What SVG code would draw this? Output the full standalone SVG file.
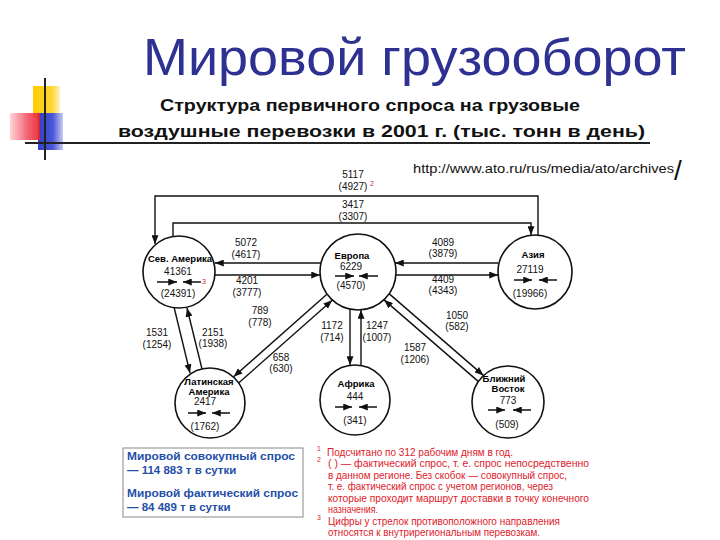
<svg xmlns="http://www.w3.org/2000/svg" width="720" height="540" viewBox="0 0 720 540">
<style>
.num{font-family:"Liberation Sans",Arial,sans-serif;font-size:10px;fill:#111;text-anchor:middle}
.nm{font-family:"Liberation Sans",Arial,sans-serif;font-size:9.5px;font-weight:bold;fill:#000;text-anchor:middle}
.ln{fill:none;stroke:#111;stroke-width:1.4}
.circ{fill:#fff;stroke:#111;stroke-width:1.6}
.ia{stroke:#111;stroke-width:1.5}
.fn{font-family:"Liberation Sans",Arial,sans-serif;font-size:10.5px;fill:#e0202a}
.sup{font-family:"Liberation Sans",Arial,sans-serif;font-size:7px;fill:#e0202a}
.lg{font-family:"Liberation Sans",Arial,sans-serif;font-size:11.5px;font-weight:bold;fill:#1f4fa8}
</style>
<defs>
<marker id="ah" viewBox="0 0 10 8" refX="10" refY="4" markerWidth="9" markerHeight="7" markerUnits="userSpaceOnUse" orient="auto"><path d="M0,0 L10,4 L0,8 Z" fill="#111"/></marker>
<marker id="ahs" viewBox="0 0 10 8" refX="10" refY="4" markerWidth="10" markerHeight="7" markerUnits="userSpaceOnUse" orient="auto"><path d="M0,0 L10,4 L0,8 Z" fill="#111"/></marker>
<linearGradient id="gy" x1="0" y1="0" x2="1" y2="0"><stop offset="0" stop-color="#ffcc00"/><stop offset="0.7" stop-color="#ffd633"/><stop offset="1" stop-color="#fff2c0"/></linearGradient>
<linearGradient id="gr" x1="0" y1="0" x2="1" y2="0"><stop offset="0" stop-color="#ffd0d4"/><stop offset="0.6" stop-color="#f05060"/><stop offset="1" stop-color="#e8202a"/></linearGradient>
<linearGradient id="gb" x1="0" y1="0" x2="1" y2="0"><stop offset="0" stop-color="#3040c8"/><stop offset="0.6" stop-color="#4a58d8"/><stop offset="1" stop-color="#c8ccf4"/></linearGradient>
</defs>
<rect width="720" height="540" fill="#fff"/>
<g id="decor">
<rect x="33" y="86" width="27" height="32" fill="url(#gy)"/>
<rect x="38" y="113" width="25" height="37" fill="url(#gb)"/>
<rect x="10" y="113" width="30" height="27" fill="url(#gr)" opacity="0.9"/>
<line x1="45" y1="78" x2="45" y2="160" stroke="#222" stroke-width="2"/>
<line x1="25" y1="143" x2="650" y2="143" stroke="#222" stroke-width="2"/>
</g>
<g id="title">
<text x="143" y="75" font-family="'Liberation Sans',Arial,sans-serif" font-size="52" fill="#2e3192" textLength="543" lengthAdjust="spacingAndGlyphs">Мировой грузооборот</text>
<text x="160" y="111" font-family="'Liberation Sans',Arial,sans-serif" font-size="17" font-weight="bold" fill="#111" textLength="420" lengthAdjust="spacingAndGlyphs">Структура первичного спроса на грузовые</text>
<text x="118" y="137" font-family="'Liberation Sans',Arial,sans-serif" font-size="17" font-weight="bold" fill="#111" textLength="527" lengthAdjust="spacingAndGlyphs">воздушные перевозки в 2001 г. (тыс. тонн в день)</text>
<text x="413" y="173" font-family="'Liberation Sans',Arial,sans-serif" font-size="12.5" fill="#111"><tspan textLength="261" lengthAdjust="spacingAndGlyphs">http://www.ato.ru/rus/media/ato/archives</tspan><tspan font-size="28" dy="7">/</tspan></text>
</g>
<g id="connectors">
<path class="ln" d="M538,235 V196 H155 V244" marker-end="url(#ah)"/>
<path class="ln" d="M173,237 V223 H531 V235" marker-end="url(#ah)"/>
<path class="ln" d="M321,263 H215" marker-end="url(#ah)"/>
<path class="ln" d="M215,275 H320" marker-end="url(#ah)"/>
<path class="ln" d="M498,263 H395" marker-end="url(#ah)"/>
<path class="ln" d="M396,275 H498" marker-end="url(#ah)"/>
<path class="ln" d="M174,307 L190,373" marker-end="url(#ah)"/>
<path class="ln" d="M202,369 L187,308" marker-end="url(#ah)"/>
<path class="ln" d="M326.9,294.2 L233.6,376.8" marker-end="url(#ah)"/>
<path class="ln" d="M238.9,382.8 L332.2,300.2" marker-end="url(#ah)"/>
<path class="ln" d="M350,310 V365" marker-end="url(#ah)"/>
<path class="ln" d="M361,365 V310" marker-end="url(#ah)"/>
<path class="ln" d="M389.3,293.9 L483.4,375.4" marker-end="url(#ah)"/>
<path class="ln" d="M478.2,381.4 L384.1,299.9" marker-end="url(#ah)"/>
<text class="num" x="353" y="178">5117</text><text class="num" x="353" y="190">(4927)</text>
<text class="sup" x="370" y="186">2</text>
<text class="num" x="353" y="208">3417</text><text class="num" x="353" y="220">(3307)</text>
<text class="num" x="246" y="246">5072</text><text class="num" x="246" y="258">(4617)</text>
<text class="num" x="247" y="284">4201</text><text class="num" x="247" y="296">(3777)</text>
<text class="num" x="443" y="246">4089</text><text class="num" x="443" y="257">(3879)</text>
<text class="num" x="443" y="283">4409</text><text class="num" x="443" y="294">(4343)</text>
<text class="num" x="157" y="336">1531</text><text class="num" x="157" y="348">(1254)</text>
<text class="num" x="213" y="336">2151</text><text class="num" x="213" y="347">(1938)</text>
<text class="num" x="260" y="314">789</text><text class="num" x="260" y="326">(778)</text>
<text class="num" x="281" y="361">658</text><text class="num" x="281" y="372">(630)</text>
<text class="num" x="332" y="329">1172</text><text class="num" x="332" y="341">(714)</text>
<text class="num" x="377" y="329">1247</text><text class="num" x="377" y="341">(1007)</text>
<text class="num" x="457" y="319">1050</text><text class="num" x="457" y="330">(582)</text>
<text class="num" x="415" y="351">1587</text><text class="num" x="415" y="363">(1206)</text>
</g>
<g id="node-na">
<circle class="circ" cx="179" cy="272" r="36"/>
<text class="nm" x="180" y="262">Сев. Америка</text>
<text class="num" x="178" y="275">41361</text>
<line class="ia" x1="157" y1="282" x2="177" y2="282" marker-end="url(#ahs)"/>
<line class="ia" x1="201" y1="282" x2="183" y2="282" marker-end="url(#ahs)"/>
<text class="num" x="178" y="297">(24391)</text>
<text class="sup" x="202" y="284">3</text>
</g>
<g id="node-eu">
<circle class="circ" cx="358" cy="272" r="38"/>
<text class="nm" x="352" y="259">Европа</text>
<text class="num" x="351" y="270">6229</text>
<line class="ia" x1="335" y1="276" x2="354" y2="276" marker-end="url(#ahs)"/>
<line class="ia" x1="378" y1="276" x2="359" y2="276" marker-end="url(#ahs)"/>
<text class="num" x="351" y="289">(4570)</text>
</g>
<g id="node-as">
<circle class="circ" cx="535" cy="272" r="37"/>
<text class="nm" x="533" y="258">Азия</text>
<text class="num" x="530" y="273">27119</text>
<line class="ia" x1="514" y1="280" x2="532" y2="280" marker-end="url(#ahs)"/>
<line class="ia" x1="557" y1="280" x2="539" y2="280" marker-end="url(#ahs)"/>
<text class="num" x="530" y="297">(19966)</text>
</g>
<g id="node-la">
<circle class="circ" cx="210" cy="403" r="35"/>
<text class="nm" x="209" y="385">Латинская</text>
<text class="nm" x="209" y="395">Америка</text>
<text class="num" x="205" y="405">2417</text>
<line class="ia" x1="188" y1="413" x2="206" y2="413" marker-end="url(#ahs)"/>
<line class="ia" x1="230" y1="413" x2="212" y2="413" marker-end="url(#ahs)"/>
<text class="num" x="205" y="430">(1762)</text>
</g>
<g id="node-af">
<circle class="circ" cx="355" cy="400" r="35"/>
<text class="nm" x="356" y="387">Африка</text>
<text class="num" x="355" y="400">444</text>
<line class="ia" x1="335" y1="407" x2="352" y2="407" marker-end="url(#ahs)"/>
<line class="ia" x1="377" y1="407" x2="359" y2="407" marker-end="url(#ahs)"/>
<text class="num" x="355" y="424">(341)</text>
</g>
<g id="node-me">
<circle class="circ" cx="508" cy="402" r="36"/>
<text class="nm" x="504" y="382">Ближний</text>
<text class="nm" x="508" y="392">Восток</text>
<text class="num" x="508" y="404">773</text>
<line class="ia" x1="488" y1="410" x2="505" y2="410" marker-end="url(#ahs)"/>
<line class="ia" x1="531" y1="410" x2="513" y2="410" marker-end="url(#ahs)"/>
<text class="num" x="507" y="428">(509)</text>
</g>
<g id="legend">
<rect x="123" y="448" width="180" height="69" fill="#fff" stroke="#888" stroke-width="1"/>
<text class="lg" x="127" y="460" textLength="168" lengthAdjust="spacingAndGlyphs">Мировой совокупный спрос</text>
<text class="lg" x="127" y="474">— 114 883 т в сутки</text>
<text class="lg" x="127" y="497" textLength="171" lengthAdjust="spacingAndGlyphs">Мировой фактический спрос</text>
<text class="lg" x="127" y="511">— 84 489 т в сутки</text>
</g>
<g id="footnotes">
<text class="sup" x="317" y="451">1</text>
<text class="sup" x="317" y="462">2</text>
<text class="sup" x="317" y="520">3</text>
<text class="fn" x="327" y="456" textLength="186" lengthAdjust="spacingAndGlyphs">Подсчитано по 312 рабочим дням в год.</text>
<text class="fn" x="328" y="467" textLength="261" lengthAdjust="spacingAndGlyphs">( ) — фактический спрос, т. е. спрос непосредственно</text>
<text class="fn" x="328" y="479" textLength="239" lengthAdjust="spacingAndGlyphs">в данном регионе. Без скобок — совокупный спрос,</text>
<text class="fn" x="328" y="490" textLength="225" lengthAdjust="spacingAndGlyphs">т. е. фактический спрос с учетом регионов, через</text>
<text class="fn" x="328" y="502" textLength="261" lengthAdjust="spacingAndGlyphs">которые проходит маршрут доставки в точку конечного</text>
<text class="fn" x="328" y="513" textLength="50" lengthAdjust="spacingAndGlyphs">назначения.</text>
<text class="fn" x="328" y="525" textLength="232" lengthAdjust="spacingAndGlyphs">Цифры у стрелок противоположного направления</text>
<text class="fn" x="328" y="536" textLength="212" lengthAdjust="spacingAndGlyphs">относятся к внутрирегиональным перевозкам.</text>
</g>
</svg>
